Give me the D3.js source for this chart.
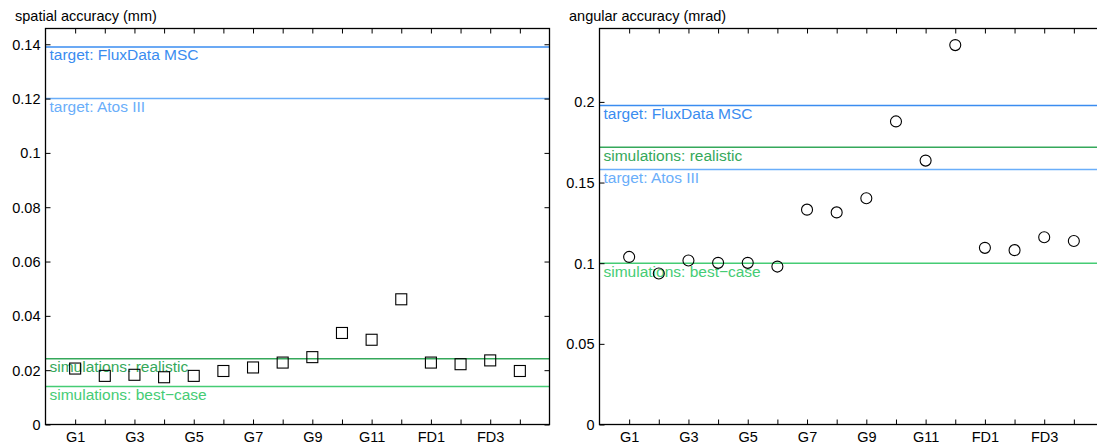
<!DOCTYPE html>
<html><head><meta charset="utf-8">
<script src="https://cdn.jsdelivr.net/npm/d3@7"></script>
<style>
html,body{margin:0;padding:0;background:#fff;overflow:hidden}
text{font-family:"Liberation Sans",Arial,Helvetica,sans-serif}
</style></head><body>
<svg id="chart" width="1097" height="446"></svg>
<script>
const categories = ["G1","G2","G3","G4","G5","G6","G7","G8","G9","G10","G11","G12","FD1","FD2","FD3","FD4"];
const tickLabels = ["G1","","G3","","G5","","G7","","G9","","G11","","FD1","","FD3",""];
const spatialValues = [0.0206,0.0179,0.0183,0.0174,0.0179,0.0197,0.0210,0.0228,0.0248,0.0337,0.0312,0.0461,0.0228,0.0222,0.0236,0.0197];
const angularValues = [0.1039,0.0936,0.1017,0.1002,0.1002,0.0979,0.1332,0.1315,0.1403,0.1879,0.1636,0.2352,0.1095,0.1081,0.1161,0.1138];
const spatialRefNames = ["target: FluxData MSC","target: Atos III","simulations: realistic","simulations: best\u2212case"];
const spatialRefValues = [0.139,0.120,0.0242,0.0140];
const angularRefNames = ["target: FluxData MSC","simulations: realistic","target: Atos III","simulations: best\u2212case"];
const angularRefValues = [0.1978,0.1719,0.1581,0.100];
const spatialYTicks = [0,0.02,0.04,0.06,0.08,0.1,0.12,0.14];
const angularYTicks = [0,0.05,0.1,0.15,0.2];

const refColor = {
  "target: FluxData MSC":"#3a8cf0",
  "target: Atos III":"#6aaefa",
  "simulations: realistic":"#35a85a",
  "simulations: best\u2212case":"#45cc74"
};
const FS = 15.5, FT = 14.5;
const svg = d3.select("#chart");

function panel(opt){
  const g = svg.append("g");
  const x = d3.scaleLinear().domain([0,17]).range([opt.left, opt.left+504]);
  const y = d3.scaleLinear().domain([0,opt.ymax]).range([424.5, 28.5]);
  const L = opt.left, R = opt.left+504, T = 28.5, B = 424.5;
  const idx = d3.range(1,17);

  opt.refValues.forEach((v,i)=>{
    const name = opt.refNames[i];
    g.append("line").attr("x1",L).attr("x2",R).attr("y1",y(v)).attr("y2",y(v))
      .attr("stroke",refColor[name]).attr("stroke-width",1.5);
    g.append("text").attr("x",L+4).attr("y",y(v)+13.5).attr("font-size",FS)
      .attr("fill",refColor[name]).text(name);
  });

  const fmt = d => d===0 ? "0" : String(+d.toFixed(3));
  const axB = d3.axisBottom(x).tickValues(idx).tickSize(-5).tickPadding(7)
      .tickFormat((d,i)=>tickLabels[i]);
  const axT = d3.axisTop(x).tickValues(idx).tickSize(-5).tickFormat("");
  const axL = d3.axisLeft(y).tickValues(opt.yticks).tickSize(-5).tickPadding(5).tickFormat(fmt);
  const axR = d3.axisRight(y).tickValues(opt.yticks).tickSize(-5).tickFormat("");
  const gb = g.append("g").attr("transform",`translate(0,${B})`).call(axB);
  const gt = g.append("g").attr("transform",`translate(0,${T})`).call(axT);
  const gl = g.append("g").attr("transform",`translate(${L},0)`).call(axL);
  const gr = g.append("g").attr("transform",`translate(${R},0)`).call(axR);
  [gb,gt,gl,gr].forEach(a=>{
    a.select(".domain").remove();
    a.selectAll(".tick line").attr("stroke","#000").attr("stroke-width",1);
    a.selectAll("text").attr("font-size",FT).attr("fill","#000")
      .style("font-family","'Liberation Sans',Arial,sans-serif");
  });
  gb.selectAll("text").attr("dy","0.71em");
  gl.selectAll("text").attr("dy","0.35em");

  g.append("rect").attr("x",L).attr("y",T).attr("width",R-L).attr("height",B-T)
    .attr("fill","none").attr("stroke","#000").attr("stroke-width",1.3);

  if(opt.marker==="square"){
    g.selectAll("rect.pt").data(opt.values).enter().append("rect").attr("class","pt")
      .attr("x",(d,i)=>x(i+1)-5.5).attr("y",d=>y(d)-5.5).attr("width",11).attr("height",11)
      .attr("fill","none").attr("stroke","#000").attr("stroke-width",1.1);
  } else {
    g.selectAll("circle.pt").data(opt.values).enter().append("circle").attr("class","pt")
      .attr("cx",(d,i)=>x(i+1)).attr("cy",d=>y(d)).attr("r",5.5)
      .attr("fill","none").attr("stroke","#000").attr("stroke-width",1.1);
  }

  g.append("text").attr("x",opt.titleX).attr("y",21).attr("font-size",FT)
    .attr("fill","#000").text(opt.title);
}

panel({left:45.5, ymax:0.1458, values:spatialValues, refNames:spatialRefNames, refValues:spatialRefValues,
  yticks:spatialYTicks, marker:"square", title:"spatial accuracy (mm)", titleX:15});
panel({left:599.5, ymax:0.2455, values:angularValues, refNames:angularRefNames, refValues:angularRefValues,
  yticks:angularYTicks, marker:"circle", title:"angular accuracy (mrad)", titleX:569});
</script>
</body></html>
